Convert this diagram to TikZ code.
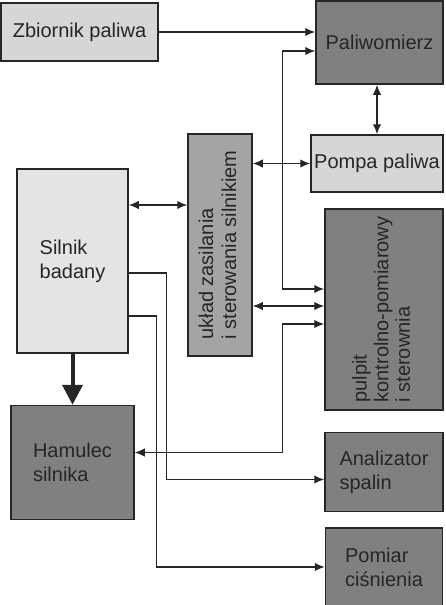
\documentclass[tikz,border=0pt]{standalone}
\usepackage{fontspec}
\setmainfont{Liberation Sans}
\usepackage{graphicx}
\usetikzlibrary{arrows,arrows.meta,positioning,calc}
\definecolor{jasny}{HTML}{E4E4E4}
\definecolor{szary}{HTML}{D6D6D6}
\definecolor{sredni}{HTML}{A4A4A4}
\definecolor{ciemny}{HTML}{808080}
\newcommand{\pionowo}[1]{\rotatebox{90}{\begin{tabular}{@{}l@{}}#1\end{tabular}}}
\tikzset{
    mynode/.style={rectangle, draw=black!85, line width=0.75pt, inner sep=0pt, align=left, text=black!85, font=\fontsize{10}{12}\selectfont},
    myarrow/.style={->, >={Latex[length=5pt,width=4.2pt]}, line width=0.65pt, black!85},
    mybiarrow/.style={<->, >={Latex[length=5pt,width=4.2pt]}, line width=0.65pt, black!85},
    bigarrow/.style={-{Triangle[length=10pt,width=10pt]}, line width=2pt, black!85}
}
\begin{document}
\begin{tikzpicture}[x=0.5pt, y=-0.5pt]
\useasboundingbox (0,0) rectangle (445,605);

\node[mynode, fill=szary, minimum width=78.5pt, minimum height=29pt] (zbiornik) at (79.5,32) {Zbiornik paliwa};
\node[mynode, fill=ciemny, minimum width=63.5pt, minimum height=41.5pt] (paliwomierz) at (379.5,42.5) {Paliwomierz};
\node[mynode, fill=szary, minimum width=66pt, minimum height=28.5pt] (pompa) at (377,163.5) {Pompa paliwa};
\node[mynode, fill=sredni, minimum width=32pt, minimum height=111pt, font=\fontsize{10}{11.5}\selectfont] (uklad) at (220,245) {\pionowo{układ zasilania\\i sterowania silnikiem}};
\node[mynode, fill=jasny, minimum width=55.5pt, minimum height=92pt] (silnik) at (72.5,261) {Silnik\\badany};
\node[mynode, fill=ciemny, minimum width=59pt, minimum height=100.5pt, font=\fontsize{10}{10.8}\selectfont] (pulpit) at (384,309.5) {\pionowo{pulpit\\kontrolno-pomiarowy\\i sterownia}};
\node[mynode, fill=ciemny, minimum width=61.5pt, minimum height=57pt, below=25.5pt of silnik] (hamulec) {Hamulec\\silnika};
\node[mynode, fill=ciemny, minimum width=59pt, minimum height=39.5pt, below=10.5pt of pulpit] (analizator) {Analizator\\spalin};
\node[mynode, fill=ciemny, minimum width=58.5pt, minimum height=39pt, below=7.5pt of analizator] (pomiar) {Pomiar\\ciśnienia};

\coordinate (s1) at ($(silnik.east)+(0,-56)$);
\coordinate (s2) at ($(silnik.east)+(0,12)$);
\coordinate (s3) at ($(silnik.east)+(0,55)$);
\coordinate (p1) at ($(pulpit.west)+(0,-20.5)$);
\coordinate (p2) at ($(pulpit.west)+(0,-3.5)$);
\coordinate (p3) at ($(pulpit.west)+(0,14.5)$);

\draw[myarrow] (zbiornik.east) -- (zbiornik.east -| paliwomierz.west);
\draw[mybiarrow] (pompa.north |- paliwomierz.south) -- (pompa.north);
\draw[mybiarrow] (pompa.west -| uklad.east) -- (pompa.west);
\draw[mybiarrow] (s1) -- (s1 -| uklad.west);
\draw[mybiarrow] (p2 -| uklad.east) -- (p2);
\draw[mybiarrow] ($(paliwomierz.west)+(0,8.5)$) -- ++(-33,0) |- (p1);
\draw[mybiarrow] (p3) -- ++(-42,0) |- ($(hamulec.east)+(0,-10)$);
\draw[myarrow] (s2) -- ++(38,0) |- ($(analizator.west)+(0,7.5)$);
\draw[myarrow] (s3) -- ++(28,0) |- (pomiar.west);

\draw[bigarrow] (silnik.south) -- (silnik.south |- hamulec.north);

\end{tikzpicture}
\end{document}
